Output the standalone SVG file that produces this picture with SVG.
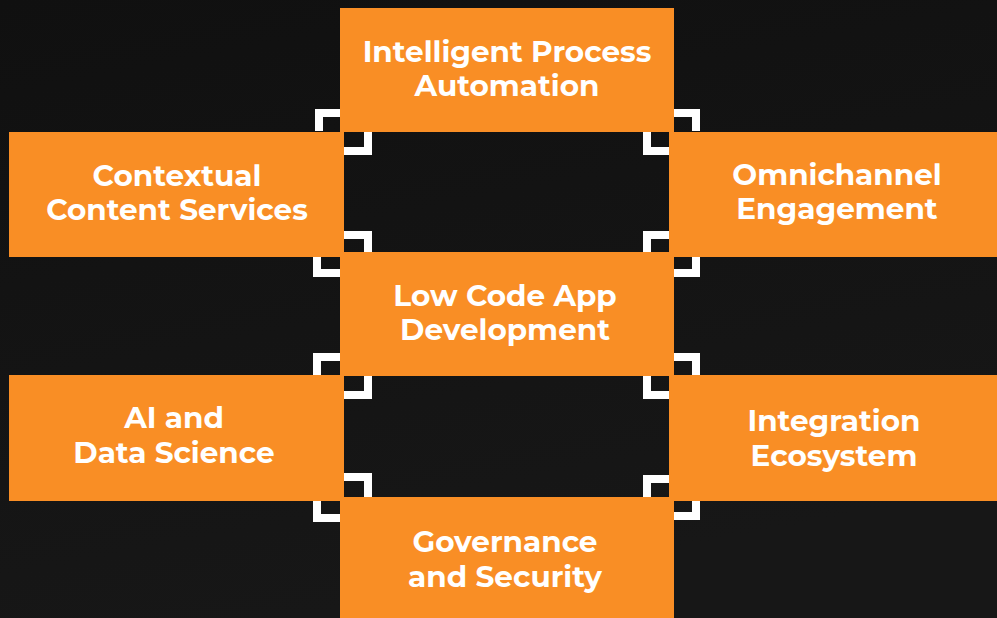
<svg xmlns="http://www.w3.org/2000/svg" width="997" height="618" viewBox="0 0 997 618">
<defs>
<linearGradient id="bg" x1="0" y1="0" x2="0.3" y2="1">
<stop offset="0" stop-color="#101010"/>
<stop offset="1" stop-color="#171717"/>
</linearGradient>
</defs>
<style>
.box{fill:#F98E25}
.t{font-family:"Montserrat","Open Sans","Liberation Sans",sans-serif;font-weight:700;font-size:29.5px;fill:#FFFFFF;text-anchor:middle}
.br{fill:none;stroke:#FFFFFF;stroke-width:8;stroke-linejoin:miter;stroke-linecap:butt}
</style>
<rect x="0" y="0" width="997" height="618" fill="url(#bg)"/>
<g id="connectors">
<polyline class="br" points="319,131 319,113 340,113"/>
<polyline class="br" points="344,151 368,151 368,132"/>
<polyline class="br" points="344,235 368,235 368,252"/>
<polyline class="br" points="317,257 317,273 340,273"/>
<polyline class="br" points="317,375 317,357 340,357"/>
<polyline class="br" points="344,395 368,395 368,376"/>
<polyline class="br" points="344,477 368,477 368,497"/>
<polyline class="br" points="317,501 317,518 340,518"/>
<polyline class="br" points="696,131 696,113 674,113"/>
<polyline class="br" points="669,151 647,151 647,132"/>
<polyline class="br" points="669,235 647,235 647,252"/>
<polyline class="br" points="696,257 696,273 674,273"/>
<polyline class="br" points="696,375 696,357 674,357"/>
<polyline class="br" points="669,395 647,395 647,376"/>
<polyline class="br" points="669,479 647,479 647,497"/>
<polyline class="br" points="696,501 696,516 674,516"/>
</g>
<g id="ipa">
<rect class="box" x="340" y="8" width="334" height="124"/>
<text class="t" x="507" y="62">Intelligent Process</text>
<text class="t" x="507" y="96">Automation</text>
</g>
<g id="ccs">
<rect class="box" x="9" y="132" width="335" height="125"/>
<text class="t" x="177" y="186">Contextual</text>
<text class="t" x="177" y="220">Content Services</text>
</g>
<g id="oe">
<rect class="box" x="669" y="132" width="328" height="125"/>
<text class="t" x="837" y="185">Omnichannel</text>
<text class="t" x="837" y="219">Engagement</text>
</g>
<g id="lcad">
<rect class="box" x="340" y="252" width="334" height="124"/>
<text class="t" x="505" y="306">Low Code App</text>
<text class="t" x="505" y="340">Development</text>
</g>
<g id="ai">
<rect class="box" x="9" y="375" width="335" height="126"/>
<text class="t" x="174" y="428">AI and</text>
<text class="t" x="174" y="463">Data Science</text>
</g>
<g id="ie">
<rect class="box" x="669" y="375" width="328" height="126"/>
<text class="t" x="834" y="431">Integration</text>
<text class="t" x="834" y="466">Ecosystem</text>
</g>
<g id="gs">
<rect class="box" x="340" y="497" width="334" height="121"/>
<text class="t" x="505" y="552">Governance</text>
<text class="t" x="505" y="587">and Security</text>
</g>
</svg>
